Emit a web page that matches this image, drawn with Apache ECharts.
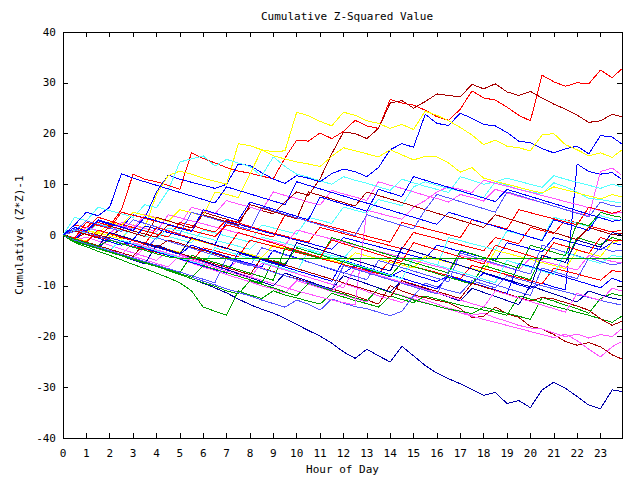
<!DOCTYPE html>
<html><head><meta charset="utf-8">
<script src="https://cdn.jsdelivr.net/npm/echarts@6/dist/echarts.min.js"></script>
<style>html,body{margin:0;padding:0;background:#fff}#c{width:640px;height:480px}
#c svg path{shape-rendering:crispEdges}</style>
</head><body><div id="c"></div>
<script>
const HOURS = [0,0.5,1,1.5,2,2.5,3,3.5,4,4.5,5,5.5,6,6.5,7,7.5,8,8.5,9,9.5,10,10.5,11,11.5,12,12.5,13,13.5,14,14.5,15,15.5,16,16.5,17,17.5,18,18.5,19,19.5,20,20.5,21,21.5,22,22.5,23,23.5,23.9];
const X_TICKS = [0,1,2,3,4,5,6,7,8,9,10,11,12,13,14,15,16,17,18,19,20,21,22,23];
const Y_TICKS = [-40,-30,-20,-10,0,10,20,30,40];

const A = [0,1.2,0.6,2.5,1.8,5.0,12.0,11.0,10.5,9.8, 9.0,16.2,15.1,14.2,13.3,12.6,12.2,11.6,11.1,15.2, 18.7,18.5,20.1,19.0,20.4,22.6,21.5,21.0,26.7,26.0, 25.6,24.6,23.3,22.6,24.8,28.4,27.0,26.6,25.2,23.6, 22.5,31.5,30.2,29.3,30.0,29.8,32.5,31.0,32.7];
const B = [0,-0.8,0.5,0,-0.6,1.5,0.8,0.2,-0.4,2.0, 1.3,0.7,4.5,3.8,3.1,2.5,5.5,4.8,4.2,6.5, 8.5,7.8,11.1,16.0,20.3,20.0,19.0,21.0,26.0,26.5, 25.0,26.3,27.8,27.5,27.2,29.7,28.8,29.8,28.2,27.5, 28.3,27.0,25.8,24.8,23.6,22.2,22.5,23.8,23.3];
const C = [0,1.0,0.4,2.8,2.1,1.5,4.0,3.3,8.5,11.8, 11.0,10.4,9.8,9.2,10.0,14.0,13.7,12.3,11.0,10.2, 11.7,11.2,10.5,12.1,13.0,12.5,11.5,13.3,16.8,18.0, 17.3,23.8,22.0,21.6,24.0,23.0,21.8,21.5,20.2,18.5, 18.2,17.0,16.2,17.0,17.5,16.0,19.6,19.3,18.0];
const D = [0,-0.5,1.0,0.4,-0.2,-0.8,2.0,1.4,8.0,11.7, 12.6,12.0,11.2,10.6,10.0,18.0,17.6,16.8,16.4,16.6, 24.2,23.5,22.4,21.5,24.2,23.6,22.5,22.0,21.0,21.8, 20.8,24.4,23.6,22.5,21.2,19.7,17.8,18.7,17.5,17.2, 16.6,19.7,20.0,17.8,16.8,15.6,16.2,15.3,16.7];
const E = [0,-1.2,-1.8,-2.5,-3.1,-3.9,-4.6,-5.3,-6.0,-7.0, -7.8,-8.6,-9.5,-10.4,-11.4,-12.6,-13.7,-14.6,-15.4,-16.4, -17.6,-18.8,-19.9,-21.3,-23.0,-24.3,-22.5,-23.8,-25.0,-21.9, -23.8,-25.7,-27.2,-28.3,-29.3,-30.4,-31.6,-31.0,-33.2,-32.6, -34.0,-30.5,-29.0,-30.2,-31.8,-33.5,-34.2,-30.5,-30.8];
const F = [0,-0.6,-1.3,0.8,0.2,-0.5,-1.1,-1.8,-2.5,-1.0, -1.6,-2.4,-3.0,-3.7,-4.4,-5.0,-5.8,-6.5,-7.2,-8.0, -8.6,-9.3,-10.0,-10.6,-11.3,-12.0,-12.8,-13.6,-10.0,-11.0, -11.8,-12.3,-12.9,-13.3,-14.5,-16.3,-16.0,-14.2,-15.5,-16.2, -18.0,-18.5,-19.6,-21.0,-21.7,-21.2,-22.0,-23.6,-24.4];
const G = [0,-1.0,-0.4,-1.2,-2.0,-2.8,-3.5,-4.2,-5.0,-3.0, -3.8,-4.5,-5.3,-6.0,-6.7,-5.0,-5.8,-6.5,-7.3,-8.0, -8.7,-9.5,-10.2,-11.0,-9.5,-10.3,-11.1,-12.0,-12.6,-13.3, -12.0,-12.8,-13.6,-14.4,-15.0,-15.8,-15.4,-16.3,-17.0,-17.8, -18.3,-18.5,-19.3,-20.0,-19.5,-20.3,-19.6,-20.0,-18.5];
const H = [0,-0.8,-1.5,-2.3,-3.0,-3.8,-4.5,-2.5,-3.3,-4.0, -4.8,-5.5,-6.3,-7.0,-7.8,-8.5,-9.2,-10.0,-10.6,-11.4, -9.0,-9.7,-10.4,-11.1,-11.8,-12.5,-13.2,-10.5,-11.2,-11.9, -12.6,-13.3,-14.0,-14.6,-15.3,-16.0,-16.6,-17.2,-17.8,-18.4, -19.0,-19.6,-20.2,-19.5,-20.8,-22.5,-24.0,-22.0,-21.0];
const I = [0,0.8,0.1,-0.6,-1.3,-2.0,-1.0,-1.7,-2.4,-3.1, -3.8,-2.0,-2.8,-3.5,-4.2,-5.0,-5.6,-6.3,-3.0,-3.8, -4.5,-5.3,-6.0,-6.8,-7.5,-6.0,-6.8,-7.5,-8.2,-7.0, -7.8,-8.5,-9.2,-8.0,-8.8,-9.5,-7.5,-8.3,-9.0,-9.8, -10.5,-9.5,-10.2,-10.8,14.0,12.5,12.0,12.3,11.0];
const J = [0,1.5,0.9,0.3,2.5,1.8,1.2,4.0,3.4,2.8, 2.1,5.5,4.8,4.2,6.8,6.1,5.5,4.8,8.5,7.8, 7.2,6.5,5.9,8.8,8.1,7.5,6.8,10.5,9.8,9.2, 8.5,7.8,7.2,6.5,8.0,7.4,6.7,9.0,8.3,7.6, 7.0,6.4,5.7,5.0,4.4,3.8,12.5,13.2,11.8];
const K = [0,3.5,2.8,5.5,4.8,4.2,3.5,6.0,5.4,8.8, 14.4,15.0,15.6,13.6,14.9,14.2,13.5,11.6,15.4,13.5, 12.0,11.4,10.7,10.0,11.5,10.8,10.2,9.5,8.8,11.0, 10.3,9.6,9.0,8.4,11.5,10.8,10.0,10.5,9.8,9.0, 8.5,8.1,10.3,9.5,8.5,7.2,7.0,6.6,6.3];
const L = [0,2.0,1.4,0.8,0.2,-0.4,1.5,0.9,0.3,-0.3, -0.9,-1.5,1.0,0.4,-0.2,-0.8,-1.4,2.0,1.4,0.8, 0.2,3.5,2.9,2.3,5.5,4.9,4.3,7.0,6.4,5.8, 9.5,10.5,9.8,9.2,8.6,8.0,7.4,10.5,11.2,10.6, 10.0,9.4,11.7,11.0,10.4,9.8,9.2,10.0,9.5];
const M = [0,-0.8,-1.5,-2.2,-1.0,-1.7,-2.4,-3.0,-3.7,-4.3, -4.6,-4.6,-4.6,-4.6,-4.6,-4.6,-4.6,-4.6,-4.6,-4.6, -4.6,-4.6,-4.6,-4.6,-4.6,-4.6,-4.6,-4.6,-4.6,-4.6, -4.6,-4.6,-4.6,-4.6,-4.6,-4.6,-4.6,-4.6,-4.6,-4.6, -4.6,-4.6,-4.6,-4.6,-4.6,-4.6,-4.6,-4.6,-4.6];
const N = [0,-1.0,-1.8,-2.6,-3.3,-4.0,-4.8,-5.5,-6.2,-7.0, -7.8,-8.6,-9.4,-10.1,-11.0,-11.6,-9.0,-9.7,-10.4,-11.2, -12.0,-9.5,-10.2,-11.0,-11.6,-12.4,-13.0,-10.5,-11.3,-12.0, -12.8,-13.4,-14.0,-14.6,-15.0,-15.5,-14.2,-14.8,-15.4,-16.0, -16.6,-12.3,-13.0,-13.8,-14.5,-15.4,-12.5,-11.5,-12.0];
const O = [0,-1.5,-2.3,-3.2,-4.0,-4.9,-5.8,-6.6,-7.5,-8.4, -9.4,-11.0,-14.2,-15.0,-15.8,-11.0,-11.8,-12.5,-11.0,-11.8, -12.4,-13.0,-13.6,-11.5,-12.2,-12.9,-13.5,-14.2,-12.0,-12.7, -13.3,-12.0,-12.6,-13.2,-13.8,-14.3,-14.8,-15.2,-15.8,-12.0, -12.6,-13.3,-14.0,-14.6,-15.2,-15.8,-16.5,-17.2,-16.0];
const P = [0,-0.8,-1.6,-2.4,-3.1,-3.9,-4.6,-5.4,-6.1,-6.8, -7.6,-8.3,-9.1,-9.8,-10.6,-11.3,-12.0,-12.8,-13.5,-14.2, -12.8,-13.6,-14.8,-12.6,-13.4,-14.1,-14.5,-15.2,-15.9,-15.0, -12.0,-9.5,-10.2,-10.9,-11.5,-9.0,-9.7,-10.4,-8.0,-8.7, -9.3,-10.0,-10.6,-11.2,-11.8,-12.3,-12.9,-13.4,-13.8];
const Q = [0,2.0,1.4,3.5,2.8,2.1,1.5,0.8,0.2,-0.4, 2.5,1.9,1.2,0.6,3.0,2.4,1.7,1.0,0.4,-0.2, -0.8,-1.4,1.5,0.9,0.3,-0.3,-0.9,-1.5,-2.1,-2.7, 0.5,-0.1,-0.7,-1.3,-1.9,-2.5,-3.1,-0.5,-1.1,-1.7, 1.5,0.9,0.3,3.0,2.4,1.8,1.2,0.6,1.0];
const R = [0,-1.0,1.5,0.9,0.3,-0.3,-0.9,1.8,1.2,0.5, -0.1,-0.7,-1.3,-1.9,2.8,2.1,1.5,0.8,0.2,-0.4, -1.0,-1.6,-2.2,-2.8,-0.5,-1.1,-1.7,-2.3,-2.9,-3.5, -4.1,-4.7,-2.0,-2.6,-3.2,-3.8,-4.4,-5.0,-1.5,-2.1, -2.7,-3.3,-0.5,-1.1,-1.7,-2.3,-2.9,-1.5,-2.0];
const S = [0,1.0,0.4,2.2,1.6,1.0,0.4,-0.2,-0.8,1.4, 0.8,0.2,-0.4,-1.0,-1.6,-2.2,-2.8,-0.4,-1.0,-1.6, -2.2,-2.8,-3.4,-4.0,-4.6,-2.0,-2.6,-3.2,-3.8,-4.4, -5.0,-5.6,-6.2,-0.5,-1.1,-1.7,-2.3,-2.9,0.8,0.2, -0.4,-1.0,3.5,2.9,2.3,1.7,3.8,3.2,2.8];
const T = [0,-0.6,-1.2,0.8,0.2,-0.4,-1.0,-1.6,-2.2,-2.8, -3.4,-0.8,-1.4,-2.0,-2.6,-3.2,-3.8,-4.4,-2.0,-2.6, -3.2,-3.8,-4.4,-5.0,-5.6,-3.5,-4.1,-4.7,-5.3,-5.9, -6.5,-4.2,-4.8,-5.4,-6.0,-6.6,-7.2,-3.0,-3.6,-4.2, -4.8,-5.4,-6.0,-6.6,-3.0,-3.6,-4.2,-1.5,-1.0];
const U = [0,1.5,0.9,0.3,2.5,1.9,4.5,3.9,3.3,2.7, 5.0,4.4,3.8,8.5,8.0,7.4,12.0,16.8,15.6,15.0, 14.4,14.0,13.5,15.5,17.2,16.6,16.0,15.4,16.8,15.8, 14.8,15.5,15.4,14.2,12.4,13.3,11.2,10.6,10.0,9.4, 8.8,8.3,9.5,8.9,8.3,7.7,7.1,8.0,7.5];
const V = [0,-0.5,1.5,0.9,0.3,2.5,1.9,1.3,0.7,4.0, 3.4,2.8,2.2,1.6,1.0,0.4,-0.2,-0.8,-1.4,-2.0, 1.0,0.4,-0.2,-0.8,-1.4,-2.0,-2.6,-3.2,-3.8,-4.4, -5.0,-5.6,-6.2,-6.8,-4.0,-4.6,-5.2,-5.8,-6.4,-7.0, -4.5,-5.1,-5.7,-6.3,-6.9,-4.0,-4.6,-5.2,-5.5];
const W = [0,-0.7,-1.4,-2.1,-2.8,-3.5,-4.2,-4.9,-5.6,-6.3, -4.0,-4.7,-5.4,-6.1,-6.8,-7.5,-8.2,-8.9,-9.6,-10.3, -11.0,-11.6,-12.2,-12.8,-13.3,-13.8,4.9,4.3,3.7,3.1, 5.5,6.8,8.5,9.5,9.0,8.4,10.8,10.2,9.6,9.0, 8.4,7.8,7.2,6.6,6.0,5.4,4.8,4.2,4.5];
const X = [0,0.8,0.2,-0.4,-1.0,-1.6,-2.2,-2.8,-3.4,-4.0, -4.6,-5.2,-2.5,-3.1,-3.7,-4.3,-1.0,-1.6,-2.2,-2.8, -3.4,-4.0,-4.6,-5.2,-5.8,-6.4,-7.0,-7.6,-5.0,-5.6, -6.2,-6.8,-7.4,-8.0,-8.6,-6.0,-6.6,-7.2,-7.8,-8.4, -9.0,-9.6,-6.5,-7.1,-7.7,-8.3,-8.9,-7.0,-7.3];
const Y = [0,-1.2,-1.9,-2.6,-0.5,-1.2,-1.9,-2.6,-3.3,-4.0, -4.7,-5.4,-6.1,-6.8,-7.5,-3.5,-4.2,-4.9,-5.6,-6.3, -7.0,-7.7,-8.4,-9.1,-5.0,-5.7,-6.4,-7.1,-7.8,-8.5, -9.2,-9.9,-10.6,-8.0,-8.7,-9.4,-10.1,-10.8,-11.5,-5.5, -6.2,-6.9,-7.6,-8.3,-9.0,-9.7,-10.4,-8.5,-9.2];
const Z = [0,-0.9,-1.7,-2.5,-3.3,-4.1,-4.9,-5.7,-2.0,-2.8, -3.6,-4.4,-5.2,-6.0,-6.8,-7.6,-8.4,-9.2,-10.0,-7.5, -8.3,-9.1,-9.9,-10.7,-8.0,-8.8,-9.6,-10.4,-11.2,-9.0, -9.8,-10.6,-11.4,-12.2,-13.0,-10.5,-11.3,-12.1,-12.9,-13.7, -10.0,-10.8,-11.6,-12.4,-13.2,-11.0,-11.8,-12.4,-12.8];
const AA = [0,1.2,0.5,-0.2,-0.9,-1.6,-2.3,-3.0,-0.5,-1.2, -1.9,-2.6,-3.3,-4.0,-4.7,-5.4,-6.1,-2.5,-3.2,-3.9, -4.6,-5.3,-6.0,-6.7,-7.4,-8.1,-8.8,-5.0,-5.7,-6.4, -7.1,-7.8,-8.5,-9.2,-3.5,-4.2,-4.9,-5.6,-6.3,-7.0, -7.7,-2.0,-2.7,-3.4,-4.1,-4.8,-2.5,-3.2,-3.0];
const AB = [0,-0.6,2.5,1.9,1.3,4.5,3.9,3.3,2.7,2.1, 1.5,0.9,0.3,-0.3,2.0,1.4,0.8,0.2,-0.4,4.0, 3.4,2.8,2.2,1.6,1.0,0.4,-0.2,-0.8,-1.4,2.5, 1.9,1.3,0.7,0.1,-0.5,3.0,2.4,1.8,1.2,5.0, 4.4,3.8,3.2,2.6,2.0,5.5,4.9,4.3,4.8];
const AC = [0,-1.3,-2.0,-2.7,-3.4,-4.1,-4.8,-5.5,-6.2,-6.9, -7.6,-8.3,-6.0,-6.7,-7.4,-8.1,-8.8,-9.5,-5.0,-5.7, -2.5,-3.2,-3.9,-4.6,-5.3,-6.0,-6.7,-7.4,-8.1,-5.5, -6.2,-6.9,-7.6,-8.3,-9.0,-9.7,-6.0,-6.7,-7.4,-8.1, -8.8,-4.0,-4.7,-5.4,-0.5,-1.2,-1.9,-0.5,-1.0];
const AD = [0,2.0,4.5,3.8,5.5,12.1,11.2,10.5,9.8,9.1, 8.4,7.7,7.0,6.3,9.5,8.8,8.1,7.4,6.7,6.0, 10.5,9.8,9.1,8.4,7.7,7.0,6.3,5.6,4.9,4.2, 3.5,2.8,2.1,4.5,3.8,3.1,2.4,1.7,1.0,0.3, -0.4,-1.1,3.0,2.3,1.6,0.9,4.5,3.8,3.5];
const AE = [0,0.8,0.1,-0.6,1.8,1.1,0.4,-0.3,3.5,2.8, 2.1,1.4,4.0,3.3,2.6,1.9,6.0,5.3,4.6,3.9, 3.2,8.5,7.8,7.1,6.4,5.7,8.5,7.8,7.1,6.4, 5.7,5.0,4.3,3.6,2.9,2.2,1.5,4.0,3.3,2.6, 1.9,1.2,0.5,-0.2,-0.9,1.5,0.8,0.1,0.3];
const AF = [0,-0.9,-1.6,-2.3,-3.0,-1.0,-1.7,-2.4,-3.1,-3.8, -4.5,-5.2,-5.9,-2.5,-3.2,-3.9,-4.6,-5.3,-6.0,-6.7, -7.4,-3.0,-3.7,-4.4,-5.1,-5.8,-6.5,-7.2,-7.9,-8.6, -4.5,-5.2,-5.9,-6.6,-7.3,-8.0,-8.7,-9.4,-5.0,-5.7, -6.4,-7.1,-7.8,-3.5,-4.2,-4.9,-5.6,-4.0,-4.3];
const AG = [0,-0.7,-1.4,-2.1,-2.8,-3.5,-4.2,-1.5,-2.2,-2.9, -3.6,-4.3,-5.0,-5.7,-6.4,-7.1,-7.8,-4.5,-5.2,-5.9, -6.6,-7.3,-8.0,-8.7,-9.4,-10.1,-10.8,-11.5,-12.2,-9.0, -9.7,-10.4,-11.1,-11.8,-12.5,-9.5,-10.2,-10.9,-11.6,-12.3, -13.0,-12.3,-12.6,-13.3,-14.0,-14.8,-16.5,-17.8,-17.0];
const AH = [0,-1.1,-1.8,-2.5,-3.2,-3.9,-4.6,-5.3,-6.0,-6.7, -7.4,-4.0,-4.7,-5.4,-6.1,-6.8,-7.5,-8.2,-8.9,-2.5, -3.2,-3.9,-4.6,-0.5,-1.2,-1.9,-2.6,-3.3,-4.0,-4.7, -5.4,-6.1,-6.8,-7.5,-3.0,-3.7,-4.4,-5.1,-5.8,-6.5, -2.0,-2.7,-3.4,-4.1,2.5,1.8,4.5,3.8,3.5];
const AI = [0,0.7,2.8,2.1,1.4,0.7,3.0,2.3,1.6,0.9, 0.2,4.5,3.8,3.1,2.4,1.7,1.0,5.5,4.8,4.1, 3.4,2.7,2.0,1.3,0.6,-0.1,4.0,3.3,2.6,1.9, 1.2,5.0,8.0,7.3,6.6,5.9,5.2,4.5,8.5,7.8, 7.1,6.4,5.7,5.0,4.3,3.6,6.5,5.8,5.5];
const AJ = [0,-1.0,-1.7,-2.4,-3.1,-3.8,-1.5,-2.2,-2.9,-3.6, -4.3,-5.0,-5.7,-6.4,-7.1,-7.8,-8.5,-5.5,-6.2,-6.9, -7.6,-8.3,-9.0,-9.7,-10.4,-6.5,-7.2,-7.9,-8.6,-9.3, -10.0,-10.7,-11.4,-12.1,-12.8,-13.5,-14.2,-11.0,-11.7,-12.4, -13.1,-13.8,-14.5,-15.2,-11.5,-12.2,-12.9,-10.5,-11.0];
const AK = [0,1.5,0.8,3.0,2.3,1.6,0.9,3.5,2.8,2.1, 1.4,0.7,5.0,4.3,3.6,2.9,6.5,5.8,5.1,4.4, 3.7,3.0,7.5,6.8,6.1,5.4,4.7,9.0,8.3,7.6, 11.5,10.8,10.1,9.4,8.7,8.0,7.3,6.6,9.0,8.3, 7.6,6.9,6.2,5.5,4.8,4.1,3.4,2.7,3.0];
const AL = [0,-0.7,-1.4,1.0,0.3,-0.4,-1.1,-1.8,1.5,0.8, 0.1,-0.6,-1.3,-2.0,-2.7,0.5,-0.2,-0.9,-1.6,-2.3, -3.0,-3.7,-4.4,-1.0,-1.7,-2.4,-3.1,-3.8,-4.5,-5.2, -1.5,-2.2,-2.9,-3.6,-4.3,-5.0,-5.7,-2.0,-2.7,-3.4, -4.1,-4.8,-1.5,-2.2,-2.9,-3.6,-0.5,-1.2,-1.0];
const AM = [0,-1.0,-1.7,-2.4,-3.1,-3.8,-4.5,-5.2,-5.9,-6.6, -7.3,-8.0,-8.7,-9.4,-4.5,-5.2,-5.9,-6.6,-7.3,-8.0, -8.7,-9.4,-10.1,-10.8,-6.0,-6.7,-7.4,-8.1,-8.8,-9.5, -10.2,-10.9,-11.6,-7.0,-7.7,-8.4,-9.1,-9.8,-10.5,-11.2, -11.9,-6.5,-7.2,-7.9,-8.6,-4.5,-5.2,-5.9,-5.5];
const AN = [0,-0.8,-1.5,-2.2,0.5,-0.2,-0.9,-1.6,-2.3,-3.0, -3.7,-0.5,-1.2,-1.9,-2.6,-3.3,-4.0,-4.7,-5.4,-6.1, -1.5,-2.2,-2.9,-3.6,-4.3,-5.0,-5.7,-6.4,-7.1,-2.5, -3.2,-3.9,-4.6,-5.3,-6.0,-6.7,-7.4,-8.1,-8.8,-9.5, -10.2,-4.0,-4.7,-5.4,-1.0,-1.7,-2.4,0.5,0.0];

const RED='#ff0000', GREEN='#00a000', BLUE='#0000ff', MAGENTA='#ff55ff', CYAN='#55ffff',
      YELLOW='#ffff00', DARKRED='#a80000', DARKBLUE='#0000a8', LIGHTBLUE='#5555ff';

const SERIES_VALUES = [A,B,C,D,E,F,G,H,I,J,K,L,N,O,P,Q,R,S,T,U,V,W,X,Y,Z,AA,AB,AC,AD,AE,AF,AG,AH,AI,AJ,AK,AL,AM,AN,M];
const SERIES_COLORS = [RED,DARKRED,BLUE,YELLOW,DARKBLUE,DARKRED,MAGENTA,MAGENTA,BLUE,MAGENTA,CYAN,CYAN,GREEN,GREEN,LIGHTBLUE,RED,BLUE,CYAN,YELLOW,YELLOW,MAGENTA,MAGENTA,RED,BLUE,DARKBLUE,LIGHTBLUE,RED,GREEN,BLUE,DARKRED,CYAN,DARKRED,GREEN,LIGHTBLUE,MAGENTA,BLUE,RED,LIGHTBLUE,DARKBLUE,GREEN];

const FONT = 'DejaVu Sans Mono';
const txt = {color:'#000', fontFamily:FONT, fontSize:11};

const chart = echarts.init(document.getElementById('c'), null, {renderer:'svg'});
const series = SERIES_VALUES.map((vals, i) => ({
  type:'line', xAxisIndex:0, yAxisIndex:0, showSymbol:false, symbol:'none', silent:true,
  data: vals.map((v, k) => [HOURS[k], v]),
  lineStyle:{color:SERIES_COLORS[i], width:1}, itemStyle:{color:SERIES_COLORS[i]}
}));

const xCommon = {type:'value', min:X_TICKS[0], max:23.92, interval:1, splitLine:{show:false},
  axisLine:{show:true, onZero:false, lineStyle:{color:'#000', width:1}},
  axisTick:{show:true, inside:true, length:5, lineStyle:{color:'#000', width:1}}};
const yCommon = {type:'value', min:Y_TICKS[0], max:Y_TICKS[Y_TICKS.length-1], interval:10, splitLine:{show:false},
  axisLine:{show:true, onZero:false, lineStyle:{color:'#000', width:1}},
  axisTick:{show:true, inside:true, length:5, lineStyle:{color:'#000', width:1}}};

chart.setOption({
  animation:false,
  backgroundColor:'#fff',
  title:{text:'Cumulative Z-Squared Value', left:342, top:6, textAlign:'center',
    textStyle:{color:'#000', fontFamily:FONT, fontSize:11, fontWeight:'normal'}},
  grid:{left:63, right:18, top:32, bottom:38, containLabel:false},
  xAxis:[
    Object.assign({}, xCommon, {position:'bottom',
      axisLabel:Object.assign({}, txt, {margin:10, showMaxLabel:false}),
      name:'Hour of Day', nameLocation:'middle', nameGap:24, nameTextStyle:txt}),
    Object.assign({}, xCommon, {position:'top', axisLabel:{show:false}})
  ],
  yAxis:[
    Object.assign({}, yCommon, {position:'left',
      axisLabel:Object.assign({}, txt, {margin:7}),
      name:'Cumulative (Z*Z)-1', nameLocation:'middle', nameGap:36, nameRotate:90, nameTextStyle:txt}),
    Object.assign({}, yCommon, {position:'right', axisLabel:{show:false}})
  ],
  series: series
});
</script></body></html>
